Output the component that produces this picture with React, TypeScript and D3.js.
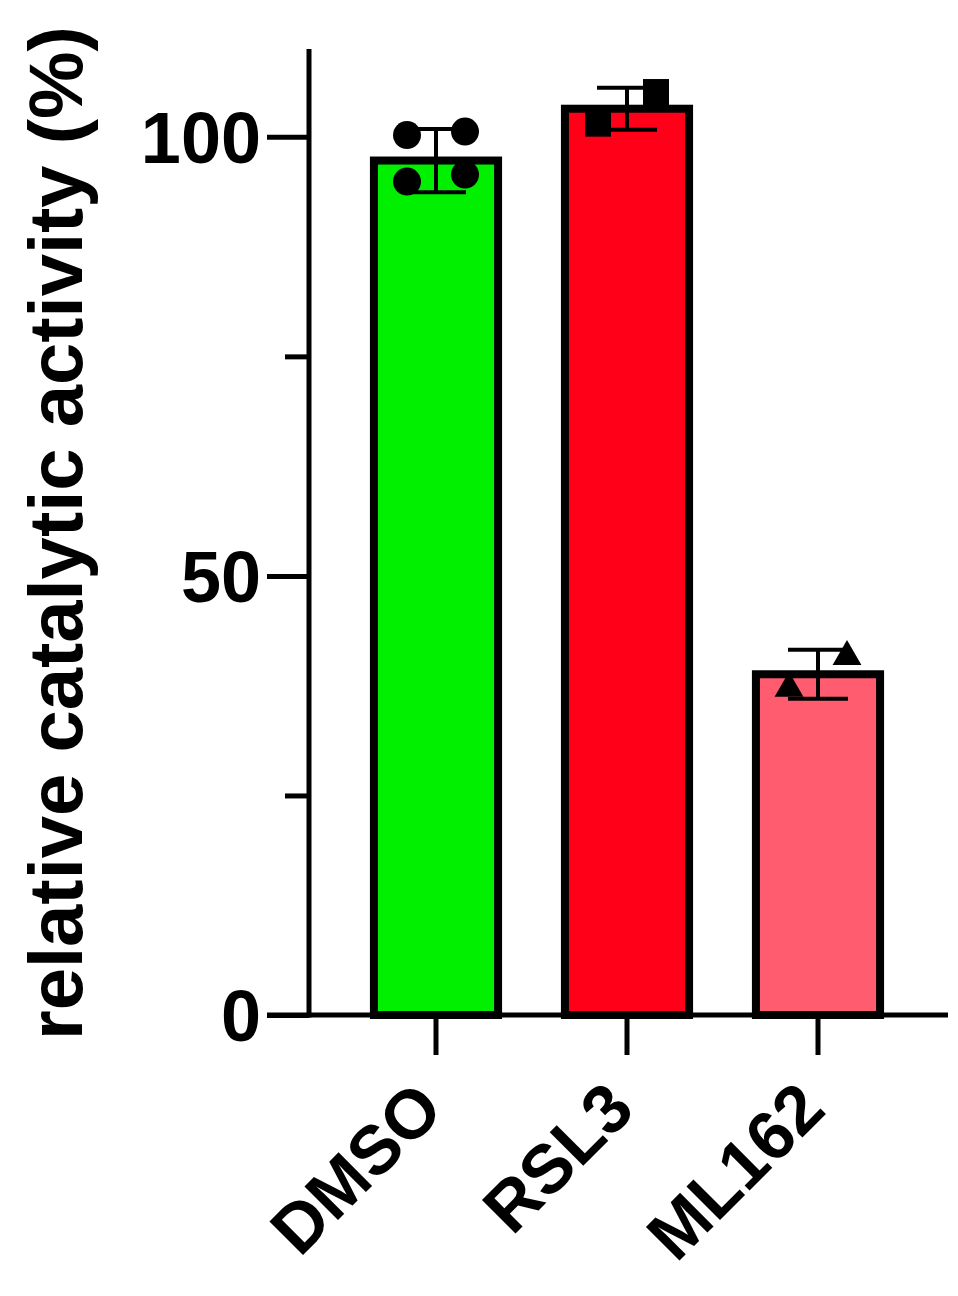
import React, { useEffect, useRef } from 'react';
import * as d3 from 'd3';

// values
const categories = ['DMSO', 'RSL3', 'ML162'];
const means = [97.3, 103.2, 38.8];
const sds = [3.6, 2.4, 2.8];
const dmsoPoints = [100.2, 100.6, 94.9, 95.7];
const rsl3Points = [101.5, 105.1];
const ml162Points = [37.2, 40.8];
const barColors = ['#00f000', '#ff0018', '#ff5c6f'];
const markerShapes = ['circle', 'square', 'triangle'];
const yMajorTicks = [0, 50, 100];
const yMinorTicks = [25, 75];
const yTitle = 'relative catalytic activity (%)';

const W = 958;
const H = 1296;
const FONT = '"Liberation Sans", Arial, Helvetica, sans-serif';

const App = () => {
  const ref = useRef<SVGSVGElement | null>(null);

  useEffect(() => {
    const svg = d3.select(ref.current);
    svg.selectAll('*').remove();

    const axisX = 309;
    const axisY = 1015;
    const xEnd = 948;

    const y = d3.scaleLinear().domain([0, 110]).range([axisY, 49]);
    const x = d3
      .scaleBand()
      .domain(categories)
      .range([340.5, 913.5])
      .paddingInner(0.35)
      .paddingOuter(0.175);

    const groups = categories.map((c, i) => ({
      name: c,
      mean: means[i],
      sd: sds[i],
      color: barColors[i],
      shape: markerShapes[i],
      points: [dmsoPoints, rsl3Points, ml162Points][i],
    }));

    // bars
    svg
      .append('g')
      .selectAll('rect')
      .data(groups)
      .join('rect')
      .attr('x', (d) => x(d.name)!)
      .attr('y', (d) => y(d.mean))
      .attr('width', x.bandwidth())
      .attr('height', (d) => axisY - y(d.mean))
      .attr('fill', (d) => d.color)
      .attr('stroke', '#000')
      .attr('stroke-width', 8);

    // error bars (mean ± SD)
    const capW = 60;
    const eb = svg.append('g').attr('stroke', '#000').attr('stroke-width', 4);
    groups.forEach((d) => {
      const cx = x(d.name)! + x.bandwidth() / 2;
      eb.append('line').attr('x1', cx).attr('x2', cx).attr('y1', y(d.mean + d.sd)).attr('y2', y(d.mean - d.sd));
      [d.mean + d.sd, d.mean - d.sd].forEach((v) => {
        eb.append('line')
          .attr('x1', cx - capW / 2)
          .attr('x2', cx + capW / 2)
          .attr('y1', y(v))
          .attr('y2', y(v));
      });
    });

    // individual points
    const jitter = 29;
    const sym = {
      circle: d3.symbol(d3.symbolCircle, Math.PI * 14 * 14),
      square: d3.symbol(d3.symbolSquare, 26 * 26),
      triangle: d3.symbol(d3.symbolTriangle, 360),
    } as Record<string, d3.Symbol<any, any>>;
    groups.forEach((d) => {
      const cx = x(d.name)! + x.bandwidth() / 2;
      svg
        .append('g')
        .selectAll('path')
        .data(d.points)
        .join('path')
        .attr('d', sym[d.shape]()!)
        .attr('transform', (v, j) => `translate(${cx + (j % 2 === 0 ? -jitter : jitter)},${y(v)})`)
        .attr('fill', '#000');
    });

    // y axis
    const gy = svg.append('g').attr('transform', `translate(${axisX},0)`);
    gy.call(
      d3.axisLeft(y).tickValues(yMajorTicks).tickSize(42).tickSizeOuter(0).tickPadding(6).tickFormat(d3.format('d'))
    );
    gy.append('g').call(d3.axisLeft(y).tickValues(yMinorTicks).tickSize(24).tickFormat(() => ''));
    gy.selectAll('.domain').remove();
    gy.selectAll('line').attr('stroke', '#000').attr('stroke-width', 5);
    gy.selectAll('text')
      .attr('fill', '#000')
      .attr('font-family', FONT)
      .attr('font-weight', 'bold')
      .attr('font-size', 72)
      .attr('dy', '0.36em');
    gy.append('line')
      .attr('x1', 0)
      .attr('x2', 0)
      .attr('y1', y(110))
      .attr('y2', axisY + 2.5)
      .attr('stroke', '#000')
      .attr('stroke-width', 5);

    // x axis
    const gx = svg.append('g').attr('transform', `translate(0,${axisY})`);
    gx.call(d3.axisBottom(x).tickSize(40).tickSizeOuter(0).tickFormat(() => ''));
    gx.select('.domain').remove();
    gx.selectAll('line').attr('stroke', '#000').attr('stroke-width', 5);
    gx.append('line')
      .attr('x1', 267)
      .attr('x2', xEnd)
      .attr('y1', 0)
      .attr('y2', 0)
      .attr('stroke', '#000')
      .attr('stroke-width', 5);

    // rotated category labels
    svg
      .append('g')
      .selectAll('text')
      .data(categories)
      .join('text')
      .attr('transform', (c) => `translate(${x(c)! + x.bandwidth() / 2 + 10},1112) rotate(-45)`)
      .attr('text-anchor', 'end')
      .attr('font-family', FONT)
      .attr('font-weight', 'bold')
      .attr('font-size', 69)
      .attr('fill', '#000')
      .text((c) => c);

    // y title
    svg
      .append('text')
      .attr('transform', `translate(82,533) rotate(-90)`)
      .attr('text-anchor', 'middle')
      .attr('font-family', FONT)
      .attr('font-weight', 'bold')
      .attr('font-size', 76)
      .attr('fill', '#000')
      .text(yTitle);
  }, []);

  return (
    <svg
      ref={ref}
      width={W}
      height={H}
      style={{ position: 'absolute', left: 0, top: 0, background: '#fff' }}
    />
  );
};

export default App;
